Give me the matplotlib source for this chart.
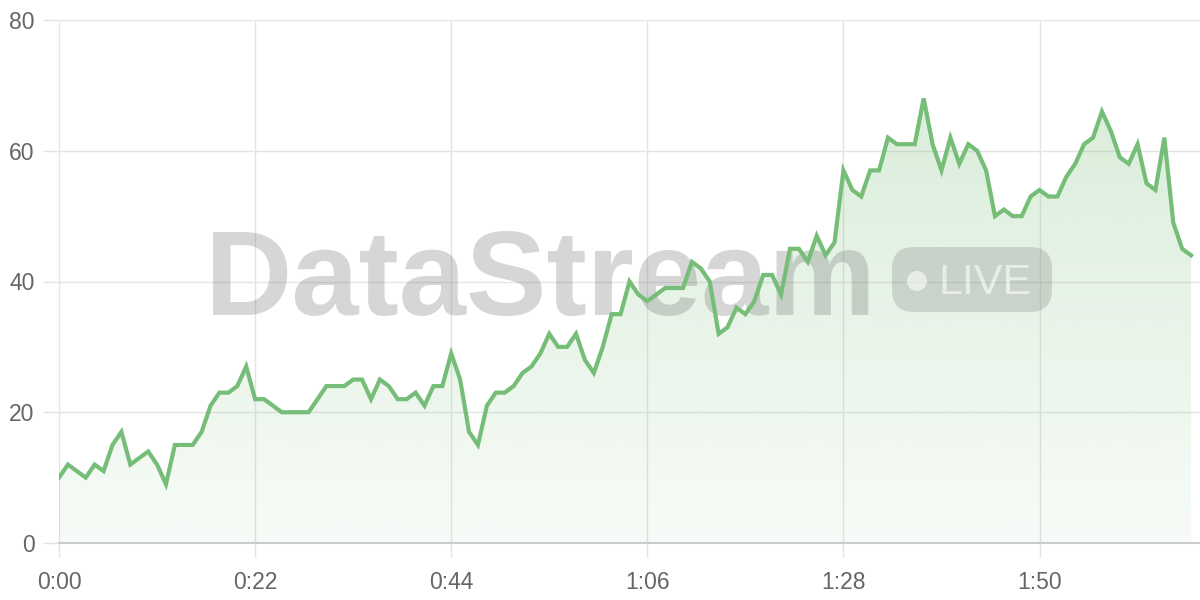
"""
Live stream chart with DataStream watermark
"""

import numpy as np
import matplotlib.pyplot as plt
from matplotlib.patches import FancyBboxPatch, Circle
from matplotlib.transforms import IdentityTransform

# Data: one sample per second
seconds = np.arange(128)
values = [
    10, 12, 11, 10, 12, 11, 15, 17, 12, 13, 14, 12, 9, 15, 15, 15,
    17, 21, 23, 23, 24, 27, 22, 22, 21, 20, 20, 20, 20, 22, 24, 24,
    24, 25, 25, 22, 25, 24, 22, 22, 23, 21, 24, 24, 29, 25, 17, 15,
    21, 23, 23, 24, 26, 27, 29, 32, 30, 30, 32, 28, 26, 30, 35, 35,
    40, 38, 37, 38, 39, 39, 39, 43, 42, 40, 32, 33, 36, 35, 37, 41,
    41, 38, 45, 45, 43, 47, 44, 46, 57, 54, 53, 57, 57, 62, 61, 61,
    61, 68, 61, 57, 62, 58, 61, 60, 57, 50, 51, 50, 50, 53, 54, 53,
    53, 56, 58, 61, 62, 66, 63, 59, 58, 61, 55, 54, 62, 49, 45, 44,
]
tick_seconds = [0, 22, 44, 66, 88, 110]
tick_labels = ['0:00', '0:22', '0:44', '1:06', '1:28', '1:50']
y_ticks = [0, 20, 40, 60, 80]

LINE = '#76bd78'
GRID = '#e4e4e4'
TEXT = '#666666'

plt.rcParams['font.family'] = ['Liberation Sans', 'DejaVu Sans']

fig = plt.figure(figsize=(12, 6), dpi=100)
ax = fig.add_axes([59 / 1200, 57 / 600, 1141 / 1200, 523 / 600])

# gradient fill under the line
poly = ax.fill_between(seconds, values, 0, color='none', lw=0)
top = max(values)
alpha = np.linspace(0.27, 0.06, 256)
rgba = np.zeros((256, 1, 4))
rgba[..., 0] = 118 / 255
rgba[..., 1] = 189 / 255
rgba[..., 2] = 120 / 255
rgba[:, 0, 3] = alpha
img = ax.imshow(rgba, extent=[seconds[0], seconds[-1], 0, top],
                aspect='auto', origin='upper', zorder=1, interpolation='bilinear')
img.set_clip_path(poly.get_paths()[0], transform=ax.transData)

ax.plot(seconds, values, color=LINE, lw=3, solid_joinstyle='miter', zorder=3)

ax.set_xlim(0, 128)
ax.set_ylim(0, 80)
ax.set_xticks(tick_seconds)
ax.set_xticklabels(tick_labels)
ax.set_yticks(y_ticks)
ax.grid(True, color=GRID, lw=1, zorder=0)
ax.set_axisbelow(True)
ax.tick_params(axis='x', length=10, width=1, color=GRID, pad=10, labelsize=16.5, labelcolor=TEXT)
ax.tick_params(axis='y', length=11.5, width=1, color=GRID, pad=6, labelsize=16.5, labelcolor=TEXT)
for side in ['top', 'right', 'left']:
    ax.spines[side].set_visible(False)
ax.spines['bottom'].set_color('#cccccc')
ax.spines['bottom'].set_linewidth(1.5)

# watermark
ax.text(541 / 1200, 1 - 315 / 600, 'DataStream', transform=fig.transFigure,
        ha='center', va='baseline', fontsize=87, fontweight='bold',
        color='#808080', alpha=0.32, zorder=2, clip_on=False)
badge = FancyBboxPatch((892, 288), 160, 65, boxstyle='round,pad=0,rounding_size=22',
                       transform=IdentityTransform(), facecolor='#808080', alpha=0.28,
                       lw=0, zorder=2, clip_on=False)
ax.add_patch(badge)
ax.add_patch(Circle((917, 319), 10, transform=IdentityTransform(), facecolor='white',
                    alpha=0.6, lw=0, zorder=2, clip_on=False))
ax.text(938, 306, 'LIVE', transform=IdentityTransform(), ha='left', va='baseline',
        fontsize=31, color='white', alpha=0.6, zorder=2, clip_on=False)

fig.savefig('out.png', dpi=100)
